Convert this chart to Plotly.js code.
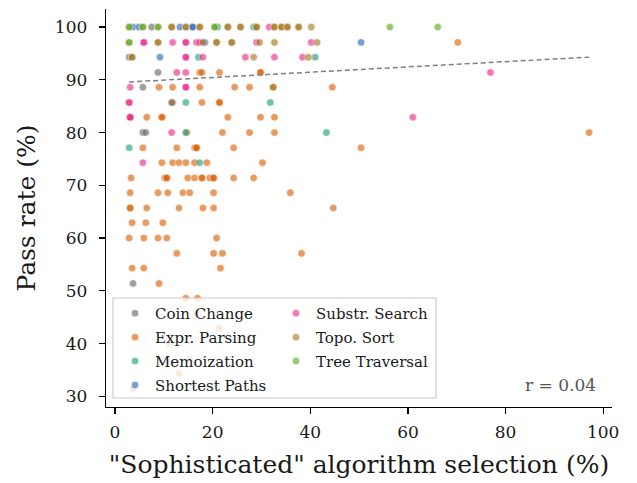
<!DOCTYPE html>
<html>
<head>
<meta charset="utf-8">
<script src="https://cdn.plot.ly/plotly-3.0.1.min.js"></script>
<style>html,body{margin:0;padding:0;background:#fff;}</style>
</head>
<body>
<div id="chart" style="width:637px;height:483px;"></div>
<script>
// ---- Data ----
const categories = ['Coin Change','Expr. Parsing','Memoization','Shortest Paths','Substr. Search','Topo. Sort','Tree Traversal'];

const coinX = [7.5, 2.9, 8.8, 5.7, 11.6, 5.7, 6.3, 3.7];
const coinY = [100, 94.3, 91.4, 88.6, 85.7, 80, 80, 51.4];

const exprX = [70.2,
  17.35, 17.8, 21.4, 29.8, 29.8,
  9.0, 11.8, 17.35, 24.5, 27.55, 32.4, 44.5,
  11.8, 17.8, 21.4, 21.4,
  3.1, 6.5, 9.6, 9.6, 23.1, 29.8, 32.65,
  14.7, 22.0, 27.55, 32.65, 97.1,
  5.7, 12.65, 16.3, 16.7, 16.7, 24.3, 50.4,
  9.6, 11.8, 13.1, 14.5, 16.3, 18.8, 30.2,
  3.3, 10.2, 10.6, 10.6, 14.9, 16.3, 17.8, 17.8, 19.4, 20.2, 20.2, 24.3, 28.4,
  3.1, 8.8, 10.8, 13.9, 15.3, 20.2, 35.9,
  3.1, 3.1, 6.5, 13.1, 18.0, 20.2, 44.7,
  3.5, 6.3, 9.8,
  2.9, 5.9, 8.8, 10.6, 20.8,
  12.65, 20.2, 22.0, 38.2,
  3.5, 5.9, 21.6,
  9.0,
  14.5, 16.9,
  16.7, 21.4, 11.2, 15.3, 13.1, 3.7];
const exprY = [97.1,
  91.4, 91.4, 91.4, 91.4, 91.4,
  88.6, 88.6, 88.6, 88.6, 88.6, 88.6, 88.6,
  85.7, 85.7, 85.7, 85.7,
  82.9, 82.9, 82.9, 82.9, 82.9, 82.9, 82.9,
  80, 80, 80, 80, 80,
  77.1, 77.1, 77.1, 77.1, 77.1, 77.1, 77.1,
  74.3, 74.3, 74.3, 74.3, 74.3, 74.3, 74.3,
  71.4, 71.4, 71.4, 71.4, 71.4, 71.4, 71.4, 71.4, 71.4, 71.4, 71.4, 71.4, 71.4,
  68.6, 68.6, 68.6, 68.6, 68.6, 68.6, 68.6,
  65.7, 65.7, 65.7, 65.7, 65.7, 65.7, 65.7,
  62.9, 62.9, 62.9,
  60, 60, 60, 60, 60,
  57.1, 57.1, 57.1, 57.1,
  54.3, 54.3, 54.3,
  51.4,
  48.6, 48.6,
  45.7, 42.9, 40, 37.1, 34.3, 31.4];

const memoX = [21.0, 28.4, 17.1, 41.0, 14.5, 31.8, 14.5, 43.3, 2.9, 17.35];
const memoY = [100, 100, 94.3, 94.3, 85.7, 85.7, 80, 80, 77.1, 74.3];

const shortX = [3.7, 4.9, 13.3, 15.9, 15.9, 18.4, 9.2, 50.4];
const shortY = [100, 100, 100, 100, 100, 97.1, 94.3, 97.1];

const substrX = [31.6, 5.9, 5.9, 11.8, 14.5, 14.5, 16.7, 17.35, 29.0, 40.2,
  14.5, 14.5, 18.0, 26.7, 32.65, 38.4,
  12.65, 14.5, 76.9,
  3.1, 14.5, 14.5,
  2.9, 2.9,
  3.1, 3.1, 61.0,
  11.6, 5.7];
const substrY = [100, 97.1, 97.1, 97.1, 97.1, 97.1, 97.1, 97.1, 97.1, 97.1,
  94.3, 94.3, 94.3, 94.3, 94.3, 94.3,
  91.4, 91.4, 91.4,
  88.6, 88.6, 88.6,
  85.7, 85.7,
  82.9, 82.9, 82.9,
  80, 74.3];

const topoX = [11.6, 11.6, 14.5, 14.5, 17.35, 17.35, 23.1, 23.1, 25.7, 25.7, 29.0, 29.0,
  32.65, 32.65, 34.1, 34.1, 35.3, 35.3, 37.6, 37.6, 40.2,
  8.8, 8.8, 18.0, 20.8, 20.8, 23.9, 23.9, 29.6, 32.65, 41.4,
  3.5, 3.5, 28.4, 39.6,
  32.4];
const topoY = [100, 100, 100, 100, 100, 100, 100, 100, 100, 100, 100, 100,
  100, 100, 100, 100, 100, 100, 100, 100, 100,
  97.1, 97.1, 97.1, 97.1, 97.1, 97.1, 97.1, 97.1, 97.1, 97.1,
  94.3, 94.3, 94.3, 94.3,
  88.6];

const treeX = [2.9, 2.9, 5.7, 5.7, 8.8, 8.8, 20.4, 20.4, 56.3, 66.1, 2.9, 2.9];
const treeY = [100, 100, 100, 100, 100, 100, 100, 100, 100, 100, 97.1, 97.1];

// fitted trend line as drawn in the reference
const trendIntercept = 89.45;
const trendSlope = 0.05;

const xTicks = [0, 20, 40, 60, 80, 100];
const yTicks = [30, 40, 50, 60, 70, 80, 90, 100];
const rLabel = 'r = 0.04';

// ---- Styling ----
const palette = {
  'Coin Change': '#666666',
  'Expr. Parsing': '#d95f02',
  'Memoization': '#1b9e77',
  'Shortest Paths': '#2a69b1',
  'Substr. Search': '#e7298a',
  'Topo. Sort': '#a6761d',
  'Tree Traversal': '#66a61e'
};
const series = {
  'Coin Change': [coinX, coinY],
  'Expr. Parsing': [exprX, exprY],
  'Memoization': [memoX, memoY],
  'Shortest Paths': [shortX, shortY],
  'Substr. Search': [substrX, substrY],
  'Topo. Sort': [topoX, topoY],
  'Tree Traversal': [treeX, treeY]
};
const legendOf = {
  'Coin Change': 'legend', 'Expr. Parsing': 'legend', 'Memoization': 'legend', 'Shortest Paths': 'legend',
  'Substr. Search': 'legend2', 'Topo. Sort': 'legend2', 'Tree Traversal': 'legend2'
};
const drawOrder = ['Expr. Parsing','Coin Change','Memoization','Shortest Paths','Substr. Search','Topo. Sort','Tree Traversal'];

const traces = drawOrder.map(name => ({
  type: 'scatter', mode: 'markers', name: name,
  x: series[name][0], y: series[name][1],
  legend: legendOf[name], legendgroup: name,
  legendrank: categories.indexOf(name) + 1,
  marker: { color: palette[name], size: 7.5, opacity: 0.62, line: { color: 'white', width: 0.6 } },
  hoverinfo: 'skip'
}));

let allX = [];
categories.forEach(c => { allX = allX.concat(series[c][0]); });
const xmin = Math.min(...allX), xmax = Math.max(...allX);
traces.push({
  type: 'scatter', mode: 'lines', x: [xmin, xmax],
  y: [trendIntercept + trendSlope*xmin, trendIntercept + trendSlope*xmax],
  line: { color: '#808080', width: 1.5, dash: '5px,3px' }, showlegend: false, hoverinfo: 'skip'
});

const axisCommon = {
  showgrid: false, zeroline: false, showline: true, linecolor: 'black', linewidth: 1.3,
  ticks: 'outside', ticklen: 6, tickwidth: 1.2, tickcolor: 'black',
  tickfont: { size: 17, family: 'DejaVu Serif', color: '#1a1a1a' }
};

const legendCommon = {
  bgcolor: 'rgba(0,0,0,0)', borderwidth: 0, orientation: 'v',
  xanchor: 'left', yanchor: 'top', y: (407-297)/398,
  traceorder: 'grouped', tracegroupgap: 1.4, itemwidth: 30,
  font: { size: 15, family: 'DejaVu Serif', color: '#1a1a1a' }
};

const layout = {
  width: 637, height: 483,
  margin: { l: 106, r: 25, t: 9, b: 76 },
  paper_bgcolor: 'white', plot_bgcolor: 'white',
  font: { family: 'DejaVu Serif', color: '#1a1a1a' },
  xaxis: Object.assign({}, axisCommon, {
    range: [-1.85, 101.8], tickvals: xTicks, ticklabelstandoff: 3,
    title: { text: '"Sophisticated" algorithm selection (%)', font: { size: 25, family: 'DejaVu Serif', color: '#1a1a1a' }, standoff: 14 }
  }),
  yaxis: Object.assign({}, axisCommon, {
    range: [27.97, 103.43], tickvals: yTicks, ticklabelstandoff: 8,
    title: { text: 'Pass rate (%)', font: { size: 25, family: 'DejaVu Serif', color: '#1a1a1a' }, standoff: 12 }
  }),
  legend: Object.assign({}, legendCommon, { x: (115-106)/506 }),
  legend2: Object.assign({}, legendCommon, { x: (276-106)/506 }),
  shapes: [{
    type: 'rect', xref: 'paper', yref: 'paper', layer: 'above',
    x0: (113-106)/506, x1: (436-106)/506, y0: (407-398)/398, y1: (407-298)/398,
    fillcolor: 'rgba(255,255,255,0.8)', line: { color: '#cccccc', width: 1.2 }
  }],
  annotations: [{
    xref: 'paper', yref: 'paper', x: (598-106)/506, y: (407-385)/398,
    xanchor: 'right', yanchor: 'middle', showarrow: false, text: rLabel,
    font: { size: 17, family: 'DejaVu Serif', color: '#555555' }
  }]
};

Plotly.newPlot('chart', traces, layout, { staticPlot: true, displayModeBar: false });
</script>
</body>
</html>
